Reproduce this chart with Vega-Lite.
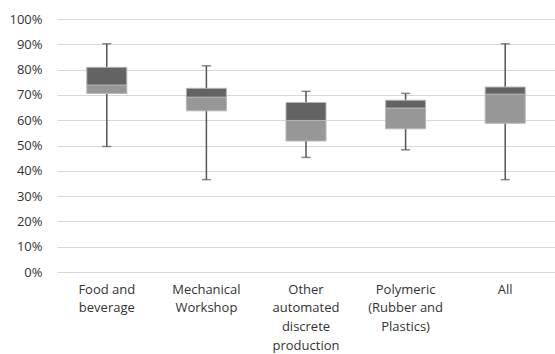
{
  "$schema": "https://vega.github.io/schema/vega-lite/v6.json",
  "autosize": "none",
  "width": 498,
  "height": 253,
  "padding": {"left": 57, "top": 19, "right": 0, "bottom": 82},
  "background": "white",
  "config": {
    "view": {"stroke": null},
    "font": "Open Sans",
    "axis": {"labelFont": "Open Sans", "labelFontSize": 13, "labelColor": "#333333", "domain": false, "ticks": false, "labelOverlap": false}
  },
  "data": {
    "values": [
      {"category": "Food and beverage", "min": 0.496, "q1": 0.706, "median": 0.739, "q3": 0.809, "max": 0.902},
      {"category": "Mechanical Workshop", "min": 0.365, "q1": 0.637, "median": 0.691, "q3": 0.726, "max": 0.815},
      {"category": "Other automated discrete production", "min": 0.453, "q1": 0.518, "median": 0.599, "q3": 0.670, "max": 0.714},
      {"category": "Polymeric (Rubber and Plastics)", "min": 0.483, "q1": 0.566, "median": 0.648, "q3": 0.679, "max": 0.706},
      {"category": "All", "min": 0.365, "q1": 0.588, "median": 0.703, "q3": 0.731, "max": 0.902}
    ]
  },
  "encoding": {
    "x": {
      "field": "category", "type": "nominal", "sort": null, "title": null,
      "scale": {"paddingInner": 0, "paddingOuter": 0},
      "axis": {
        "labelAngle": 0, "labelPadding": 11, "labelLineHeight": 18.7, "labelBaseline": "top",
        "grid": false,
        "labelExpr": "datum.label == 'Food and beverage' ? ['Food and', 'beverage'] : datum.label == 'Mechanical Workshop' ? ['Mechanical', 'Workshop'] : datum.label == 'Other automated discrete production' ? ['Other', 'automated', 'discrete', 'production'] : datum.label == 'Polymeric (Rubber and Plastics)' ? ['Polymeric', '(Rubber and', 'Plastics)'] : datum.label"
      }
    }
  },
  "layer": [
    {
      "mark": {"type": "rule", "color": "#555555", "strokeWidth": 1.5},
      "encoding": {
        "y": {
          "field": "min", "type": "quantitative", "title": null,
          "scale": {"domain": [0, 1], "nice": false},
          "axis": {"values": [0, 0.1, 0.2, 0.3, 0.4, 0.5, 0.6, 0.7, 0.8, 0.9, 1], "tickCount": 20, "labelOverlap": false, "format": ".0%", "grid": true, "gridColor": "#d9d9d9", "gridWidth": 1, "labelPadding": 15}
        },
        "y2": {"field": "max"}
      }
    },
    {
      "mark": {"type": "bar", "size": 40, "color": "#979797", "stroke": "#b5b5b5", "strokeWidth": 1},
      "encoding": {
        "y": {"field": "q1", "type": "quantitative", "title": null,
          "axis": {"values": [0, 0.1, 0.2, 0.3, 0.4, 0.5, 0.6, 0.7, 0.8, 0.9, 1], "tickCount": 20, "labelOverlap": false, "format": ".0%", "grid": true, "gridColor": "#d9d9d9", "gridWidth": 1, "labelPadding": 15}},
        "y2": {"field": "median"}
      }
    },
    {
      "mark": {"type": "bar", "size": 40, "color": "#636363", "stroke": "#b5b5b5", "strokeWidth": 1},
      "encoding": {
        "y": {"field": "median", "type": "quantitative", "title": null,
          "axis": {"values": [0, 0.1, 0.2, 0.3, 0.4, 0.5, 0.6, 0.7, 0.8, 0.9, 1], "tickCount": 20, "labelOverlap": false, "format": ".0%", "grid": true, "gridColor": "#d9d9d9", "gridWidth": 1, "labelPadding": 15}},
        "y2": {"field": "q3"}
      }
    },
    {
      "mark": {"type": "tick", "color": "#555555", "size": 9, "thickness": 1.5},
      "encoding": {"y": {"field": "max", "type": "quantitative", "title": null,
        "axis": {"values": [0, 0.1, 0.2, 0.3, 0.4, 0.5, 0.6, 0.7, 0.8, 0.9, 1], "tickCount": 20, "labelOverlap": false, "format": ".0%", "grid": true, "gridColor": "#d9d9d9", "gridWidth": 1, "labelPadding": 15}}}
    },
    {
      "mark": {"type": "tick", "color": "#555555", "size": 9, "thickness": 1.5},
      "encoding": {"y": {"field": "min", "type": "quantitative", "title": null,
        "axis": {"values": [0, 0.1, 0.2, 0.3, 0.4, 0.5, 0.6, 0.7, 0.8, 0.9, 1], "tickCount": 20, "labelOverlap": false, "format": ".0%", "grid": true, "gridColor": "#d9d9d9", "gridWidth": 1, "labelPadding": 15}}}
    }
  ]
}
